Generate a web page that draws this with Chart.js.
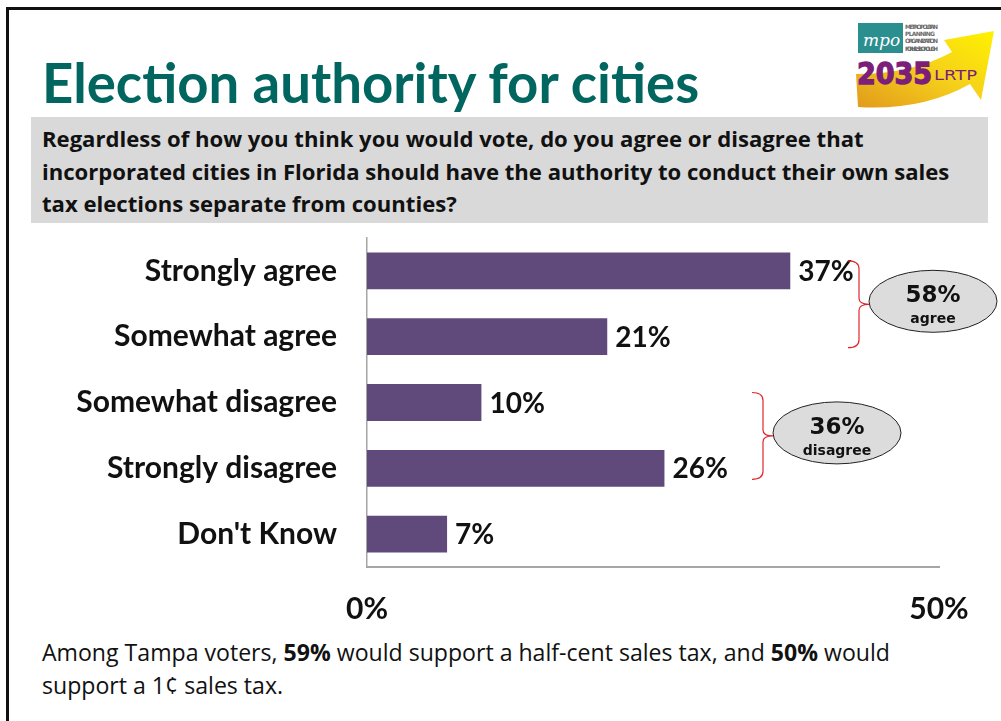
<!DOCTYPE html>
<html>
<head>
<meta charset="utf-8">
<script src="https://cdn.jsdelivr.net/npm/chart.js@4.4.1/dist/chart.umd.min.js"></script>
<style>
  html, body { margin: 0; padding: 0; background: #fff; }
  #slide { position: relative; width: 1001px; height: 721px; overflow: hidden; font-family: Lato, sans-serif; color: #111; }
  .frame-top { position: absolute; left: 6px; top: 7px; width: 1000px; height: 3px; background: #111; }
  .frame-left { position: absolute; left: 6px; top: 7px; width: 3px; height: 720px; background: #111; }
  h1 { position: absolute; left: 42px; top: 49px; margin: 0; font-size: 54.5px; line-height: 66px; font-weight: 700; color: #00665f; white-space: nowrap; }
  .question { position: absolute; left: 31px; top: 117px; width: 957px; height: 106px; background: #d9d9d9; }
  .question p { margin: 0; position: absolute; left: 11px; top: 5px; font-family: "Open Sans", sans-serif; font-size: 22.1px; line-height: 32.5px; font-weight: 700; white-space: nowrap; }
  .note { position: absolute; left: 42px; top: 636px; margin: 0; font-family: "Open Sans", sans-serif; font-size: 23.1px; line-height: 33px; white-space: nowrap; }
  #logo { position: absolute; left: 852px; top: 14px; }
  #wrap { position: absolute; left: 0; top: 0; width: 1001px; height: 721px; }
</style>
</head>
<body>
<div id="slide">
  <div class="frame-top"></div>
  <div class="frame-left"></div>
  <h1>Election authority for cities</h1>
  <svg id="logo" width="145" height="95" viewBox="0 0 145 95">
    <defs>
      <linearGradient id="arrowFill" x1="0" y1="1" x2="1" y2="0">
        <stop offset="0" stop-color="#e29a1c"/>
        <stop offset="0.5" stop-color="#f5cf1b"/>
        <stop offset="1" stop-color="#fff200"/>
      </linearGradient>
    </defs>
    <path d="M4 60 Q60 60 100 38 L92 26 L142 17 L129 86 L118 70 Q70 97 6 93 Z" fill="url(#arrowFill)"/>
    <rect x="6" y="9" width="45" height="30" fill="#2b8f8f"/>
    <text x="11" y="32" font-family="DejaVu Serif" font-style="italic" font-size="17" fill="#fff">mpo</text>
    <g font-family="DejaVu Sans" font-weight="bold" font-size="6" fill="#6b6b6b">
      <text x="53" y="15" textLength="33">METROPOLITAN</text>
      <text x="53" y="22" textLength="30">PLANNING</text>
      <text x="53" y="29" textLength="33">ORGANIZATION</text>
      <text x="53" y="37" textLength="33">FOR HILLSBOROUGH</text>
    </g>
    <text x="5" y="70" font-family="DejaVu Sans" font-weight="bold" font-size="30" fill="#7b1f7b" stroke="#7b1f7b" stroke-width="1.4" textLength="75" lengthAdjust="spacingAndGlyphs">2035</text>
    <text x="82" y="66" font-family="DejaVu Sans" font-size="14" fill="#7b1f7b" textLength="43" lengthAdjust="spacingAndGlyphs">LRTP</text>
  </svg>
  <div class="question"><p>Regardless of how you think you would vote, do you agree or disagree that<br>incorporated cities in Florida should have the authority to conduct their own sales<br>tax elections separate from counties?</p></div>
  <p class="note">Among Tampa voters, <b>59%</b> would support a half-cent sales tax, and <b>50%</b> would<br>support a 1¢ sales tax.</p>
  <div id="wrap"><canvas id="chart"></canvas></div>
</div>
<script>
// survey responses, percent of respondents
const categories = ['Strongly agree', 'Somewhat agree', 'Somewhat disagree', 'Strongly disagree', "Don't Know"];
const shares = [37, 21, 10, 26, 7];
const axisTicks = [0, 50];

// bracketed totals on the right
const groupNames = ['agree', 'disagree'];
const groupMembers = [[0, 1], [2, 3]];
const bracketX = [859, 763];

const barColor = '#604a7b';
const textColor = '#111';

function drawBrace(ctx, x, top, bottom) {
  const mid = (top + bottom) / 2;
  ctx.beginPath();
  ctx.moveTo(x - 11, top);
  ctx.quadraticCurveTo(x, top, x, top + 8);
  ctx.lineTo(x, mid - 6);
  ctx.quadraticCurveTo(x, mid, x + 10, mid);
  ctx.quadraticCurveTo(x, mid, x, mid + 6);
  ctx.lineTo(x, bottom - 8);
  ctx.quadraticCurveTo(x, bottom, x - 11, bottom);
  ctx.stroke();
}

const annotate = {
  id: 'annotate',
  afterDatasetsDraw(chart) {
    const ctx = chart.ctx;
    const bars = chart.getDatasetMeta(0).data;
    ctx.save();

    // value labels at the end of each bar
    ctx.font = 'bold 28px Lato';
    ctx.fillStyle = textColor;
    ctx.textBaseline = 'middle';
    ctx.textAlign = 'left';
    bars.forEach((bar, i) => {
      ctx.fillText(shares[i] + '%', bar.x + 8, bar.y + 1);
    });

    // braces and ellipse callouts with group totals
    groupMembers.forEach((members, g) => {
      const first = bars[members[0]];
      const last = bars[members[members.length - 1]];
      const top = first.y - 10;
      const bottom = last.y + 11;
      const x = bracketX[g];
      ctx.strokeStyle = '#e0262b';
      ctx.lineWidth = 1.2;
      drawBrace(ctx, x, top, bottom);

      const cx = x + 74;
      const cy = (top + bottom) / 2 - 3;
      ctx.beginPath();
      ctx.ellipse(cx, cy, 64, 31, 0, 0, Math.PI * 2);
      ctx.fillStyle = '#dcdcdc';
      ctx.fill();
      ctx.strokeStyle = '#222';
      ctx.lineWidth = 1;
      ctx.stroke();

      const total = members.reduce((s, i) => s + shares[i], 0);
      ctx.fillStyle = textColor;
      ctx.textAlign = 'center';
      ctx.font = 'bold 23px "DejaVu Sans"';
      ctx.fillText(total + '%', cx, cy - 5);
      ctx.font = 'bold 14px "DejaVu Sans"';
      ctx.fillText(groupNames[g], cx, cy + 18);
    });
    ctx.restore();
  }
};

new Chart(document.getElementById('chart'), {
  type: 'bar',
  data: {
    labels: categories,
    datasets: [{
      data: shares,
      backgroundColor: barColor,
      barPercentage: 0.56,
      categoryPercentage: 1.0
    }]
  },
  options: {
    indexAxis: 'y',
    responsive: true,
    maintainAspectRatio: false,
    animation: false,
    events: [],
    layout: { padding: { top: 238, right: 62, bottom: 100, left: 0 } },
    plugins: { legend: { display: false }, tooltip: { enabled: false } },
    scales: {
      x: {
        min: 0,
        max: 50,
        afterBuildTicks: s => { s.ticks = axisTicks.map(v => ({ value: v })); },
        afterFit: s => { s.height = 54; },
        grid: { display: false, drawTicks: false },
        border: { display: true, color: '#a6a6a6', width: 2 },
        ticks: {
          callback: v => v + '%',
          font: { family: 'Lato', weight: 'bold', size: 30 },
          color: textColor,
          padding: 24,
          maxRotation: 0,
          autoSkip: false
        }
      },
      y: {
        afterFit: s => { s.width = 367; },
        grid: { display: false, drawTicks: false },
        border: { display: true, color: '#a6a6a6', width: 1.5 },
        ticks: {
          font: { family: 'Lato', weight: 'bold', size: 30 },
          color: textColor,
          padding: 30
        }
      }
    }
  },
  plugins: [annotate]
});
</script>
</body>
</html>
